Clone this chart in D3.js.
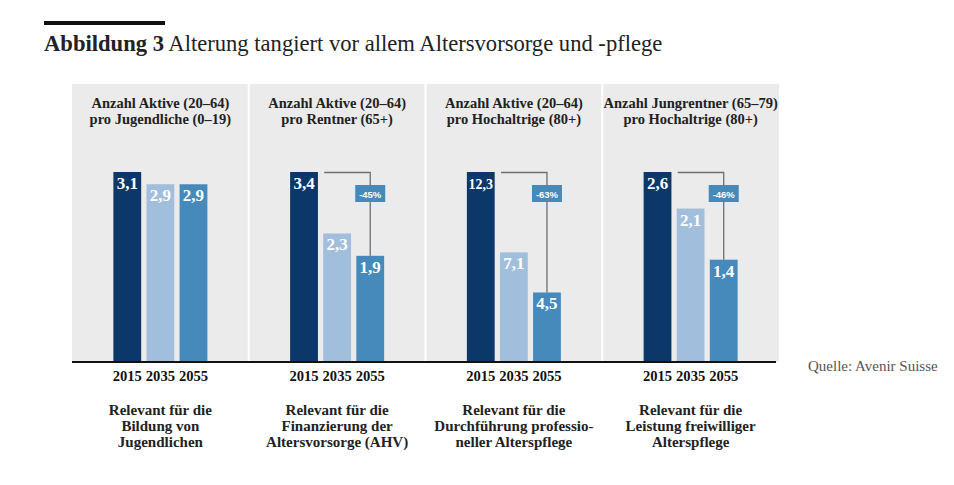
<!DOCTYPE html>
<html><head><meta charset="utf-8">
<script src="https://cdn.jsdelivr.net/npm/d3@7"></script>
<style>body{margin:0;background:#fff}svg{display:block}</style>
</head><body><div id="c"></div>
<script>
const years = ["2015","2035","2055"];
const headers = [
  ["Anzahl Aktive (20–64)","pro Jugendliche (0–19)"],
  ["Anzahl Aktive (20–64)","pro Rentner (65+)"],
  ["Anzahl Aktive (20–64)","pro Hochaltrige (80+)"],
  ["Anzahl Jungrentner (65–79)","pro Hochaltrige (80+)"]
];
const values = [
  [3.1, 2.9, 2.9],
  [3.4, 2.3, 1.9],
  [12.3, 7.1, 4.5],
  [2.6, 2.1, 1.4]
];
const changes = [null, "-45%", "-63%", "-46%"];
const footers = [
  ["Relevant für die","Bildung von","Jugendlichen"],
  ["Relevant für die","Finanzierung der","Altersvorsorge (AHV)"],
  ["Relevant für die","Durchführung professio-","neller Alterspflege"],
  ["Relevant für die","Leistung freiwilliger","Alterspflege"]
];
const colors = ["#0b3868","#a2bedd","#4689bb"];

const W=954,H=485;
const svg=d3.select("#c").append("svg").attr("width",W).attr("height",H);
const font="'Liberation Serif', serif";

// title
svg.append("rect").attr("x",44).attr("y",21).attr("width",121).attr("height",4).attr("fill","#111");
const t=svg.append("text").attr("x",44).attr("y",51).attr("font-family",font).attr("font-size",22.6).attr("fill","#222");
t.append("tspan").attr("font-weight","bold").text("Abbildung 3");
t.append("tspan").text(" Alterung tangiert vor allem Altersvorsorge und -pflege");

const panelTop=84, base=362, barTop=172;
const px = d3.scaleBand().domain(d3.range(4)).range([72,779]).paddingInner(0);
const fmt = v => String(v).replace(".",",");

values.forEach((vals,i)=>{
  const g=svg.append("g");
  const x0=px(i), bw=px.bandwidth();
  g.append("rect").attr("x",x0+(i>0?1:0)).attr("y",panelTop).attr("width",bw-(i>0?1:0)-(i<3?1:0)).attr("height",base-panelTop).attr("fill","#ebebeb");
  const cx=x0+bw/2;
  headers[i].forEach((h,k)=>g.append("text").attr("x",cx).attr("y",108+k*16).attr("text-anchor","middle")
    .attr("font-family",font).attr("font-weight","bold").attr("font-size",14.5).attr("fill","#222").text(h));
  const xb=d3.scaleBand().domain(years).range([cx-47,cx+47]).paddingInner(0.16);
  const y=d3.scaleLinear().domain([0,vals[0]]).range([base,barTop]);
  vals.forEach((v,j)=>{
    g.append("rect").attr("x",xb(years[j])).attr("y",y(v)).attr("width",xb.bandwidth()).attr("height",base-y(v)).attr("fill",colors[j]);
    const s=fmt(v);
    g.append("text").attr("x",xb(years[j])+xb.bandwidth()/2).attr("y",y(v)+17).attr("text-anchor","middle")
      .attr("font-family",font).attr("font-weight","bold").attr("font-size",s.length>3?14:17).attr("fill","#fff").text(s);
    g.append("text").attr("x",xb(years[j])+xb.bandwidth()/2).attr("y",381).attr("text-anchor","middle")
      .attr("font-family",font).attr("font-weight","bold").attr("font-size",14.6).attr("fill","#111").text(years[j]);
  });
  if(changes[i]){
    const xs=xb(years[1])+1, xe=xb(years[2])+xb.bandwidth()/2;
    g.append("path").attr("d",`M${xs},${y(vals[0])+0.5}H${xe}V${y(vals[2])}`).attr("fill","none").attr("stroke","#6f6f6f").attr("stroke-width",1.3);
    g.append("rect").attr("x",xe-15).attr("y",185).attr("width",30).attr("height",17).attr("fill",colors[2]);
    g.append("text").attr("x",xe).attr("y",197.5).attr("text-anchor","middle").attr("font-family","'Liberation Sans', sans-serif")
      .attr("font-weight","bold").attr("font-size",9.5).attr("fill","#fff").text(changes[i]);
  }
  footers[i].forEach((f,k)=>g.append("text").attr("x",cx).attr("y",415+k*16).attr("text-anchor","middle")
    .attr("font-family",font).attr("font-weight","bold").attr("font-size",15).attr("fill","#222").text(f));
});
svg.append("line").attr("x1",72).attr("x2",776).attr("y1",362).attr("y2",362).attr("stroke","#111").attr("stroke-width",2.2);
svg.append("text").attr("x",808).attr("y",371).attr("font-family",font).attr("font-size",15).attr("fill","#555").text("Quelle: Avenir Suisse");
</script></body></html>
